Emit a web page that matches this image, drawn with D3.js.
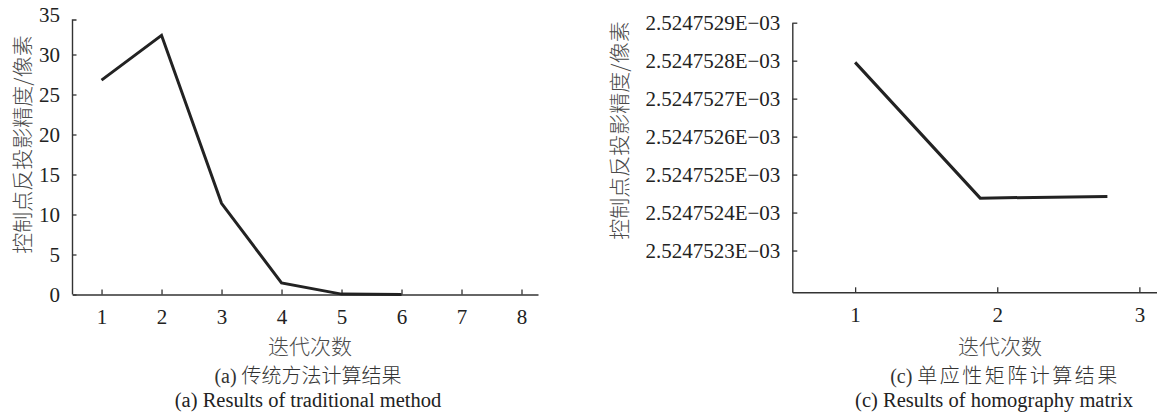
<!DOCTYPE html>
<html>
<head>
<meta charset="utf-8">
<script src="https://cdn.jsdelivr.net/npm/d3@7/dist/d3.min.js"></script>
<style>
  html, body { margin: 0; padding: 0; background: #fff; }
  svg { display: block; }
</style>
</head>
<body>
<script>
// ---- Data ----
const leftIter = [1, 2, 3, 4, 5, 6];
const leftVals = [26.8, 32.4, 11.4, 1.45, 0.05, 0];
const leftXTicks = [1, 2, 3, 4, 5, 6, 7, 8];
const leftYTicks = [0, 5, 10, 15, 20, 25, 30, 35];

const rightIter = [1, 1.88, 2.775];
const rightVals = [2.52475279550e-3, 2.5247524380e-3, 2.5247524425e-3];
const rightXTicks = [1, 2, 3];
const rightYTicks = [2.5247523e-3, 2.5247524e-3, 2.5247525e-3, 2.5247526e-3, 2.5247527e-3, 2.5247528e-3, 2.5247529e-3];

const yTitle = "控制点反投影精度/像素";
const xTitle = "迭代次数";
const leftCaptionTag = "(a) ";
const leftCaptionCn = "传统方法计算结果";
const leftCaptionEn = "(a) Results of traditional method";
const rightCaptionTag = "(c) ";
const rightCaptionCn = "单应性矩阵计算结果";
const rightCaptionEn = "(c) Results of homography matrix";

// ---- Layout ----
const W = 1157, H = 415;
const SERIF = '"Liberation Serif", "Times New Roman", serif';
const CJK = '"Noto Sans CJK SC", "Noto Sans CJK JP", sans-serif';
const svg = d3.select("body").append("svg").attr("width", W).attr("height", H);
svg.append("rect").attr("width", W).attr("height", H).attr("fill", "#fff");

const axisColor = "#333";
const lineColor = "#222";

function styleAxis(g) {
  g.attr("font-family", null).attr("font-size", null);
  g.select(".domain").attr("stroke", axisColor).attr("stroke-width", 1.4);
  g.selectAll(".tick line").attr("stroke", axisColor).attr("stroke-width", 1.3);
  g.selectAll(".tick text")
    .style("font-family", SERIF).style("font-size", "21px").style("fill", "#222");
}

function cjkText(x, y, txt, size) {
  return svg.append("text")
    .attr("x", x).attr("y", y).attr("text-anchor", "middle")
    .style("font-family", CJK).style("font-weight", 300)
    .style("font-size", (size || 21) + "px").style("fill", "#4a4a4a").text(txt);
}

function caption(x, y, tag, cn, spacing) {
  const t = svg.append("text").attr("x", x).attr("y", y).attr("text-anchor", "middle")
    .style("font-size", "20px").style("fill", "#333");
  t.append("tspan").style("font-family", SERIF).text(tag);
  t.append("tspan").style("font-family", CJK).style("font-weight", 300)
    .style("letter-spacing", spacing + "px").text(cn);
  return t;
}

function enCaption(x, y, txt) {
  return svg.append("text").attr("x", x).attr("y", y).attr("text-anchor", "middle")
    .style("font-family", SERIF).style("font-size", "20.5px").style("fill", "#222").text(txt);
}

// ===== Left chart =====
const lx = d3.scaleLinear().domain([0.516, 8.275]).range([72.5, 538]);
const ly = d3.scaleLinear().domain([0, 35]).range([294.5, 14.5]);

const lxAxis = svg.append("g").attr("transform", `translate(0,${ly(0)})`)
  .call(d3.axisBottom(lx).tickValues(leftXTicks).tickFormat(d3.format("d"))
    .tickSizeInner(-5).tickSizeOuter(0).tickPadding(15));
styleAxis(lxAxis);

const lyAxis = svg.append("g").attr("transform", `translate(${lx(0.516)},0)`)
  .call(d3.axisLeft(ly).tickValues(leftYTicks).tickFormat(d3.format("d"))
    .tickSizeInner(-4).tickSizeOuter(0).tickPadding(12.5));
styleAxis(lyAxis);
lyAxis.select(".domain").attr("d", `M0,${ly(0)}V20H4`);
lyAxis.selectAll(".tick").filter(d => d === 35).select("line").remove();

svg.append("path")
  .datum(leftIter.map((d, i) => [d, leftVals[i]]))
  .attr("fill", "none").attr("stroke", lineColor).attr("stroke-width", 3)
  .attr("stroke-linejoin", "miter")
  .attr("d", d3.line().x(d => lx(d[0])).y(d => ly(d[1])));

cjkText(0, 0, yTitle).attr("x", null).attr("y", null)
  .attr("dominant-baseline", "central")
  .attr("transform", "translate(21,144.5) rotate(-90)");

cjkText(310, 354, xTitle);
caption(308, 383, leftCaptionTag, leftCaptionCn, 0);
enCaption(308, 407, leftCaptionEn);

// ===== Right chart =====
const rx = d3.scaleLinear().domain([0.558, 3.124]).range([792.3, 1157]);
const ry = d3.scaleLinear().domain([2.52475219e-3, 2.5247529e-3]).range([292.3, 22.7]);

const fmtE = d => (d * 1000).toFixed(7) + "E\u221203";

const rxAxis = svg.append("g").attr("transform", `translate(0,${ry.range()[0]})`)
  .call(d3.axisBottom(rx).tickValues(rightXTicks).tickFormat(d3.format("d"))
    .tickSizeInner(-5).tickSizeOuter(0).tickPadding(15));
styleAxis(rxAxis);

const ryAxis = svg.append("g").attr("transform", `translate(${rx.range()[0]},0)`)
  .call(d3.axisLeft(ry).tickValues(rightYTicks).tickFormat(fmtE)
    .tickSizeInner(-5).tickSizeOuter(0).tickPadding(12));
styleAxis(ryAxis);

svg.append("path")
  .datum(rightIter.map((d, i) => [d, rightVals[i]]))
  .attr("fill", "none").attr("stroke", lineColor).attr("stroke-width", 3)
  .attr("d", d3.line().x(d => rx(d[0])).y(d => ry(d[1])));

cjkText(0, 0, yTitle).attr("x", null).attr("y", null)
  .attr("dominant-baseline", "central")
  .attr("transform", "translate(618,130.5) rotate(-90)");

cjkText(1000, 354, xTitle);
caption(1005, 383, rightCaptionTag, rightCaptionCn, 2.5);
enCaption(994, 407, rightCaptionEn);
</script>
</body>
</html>
